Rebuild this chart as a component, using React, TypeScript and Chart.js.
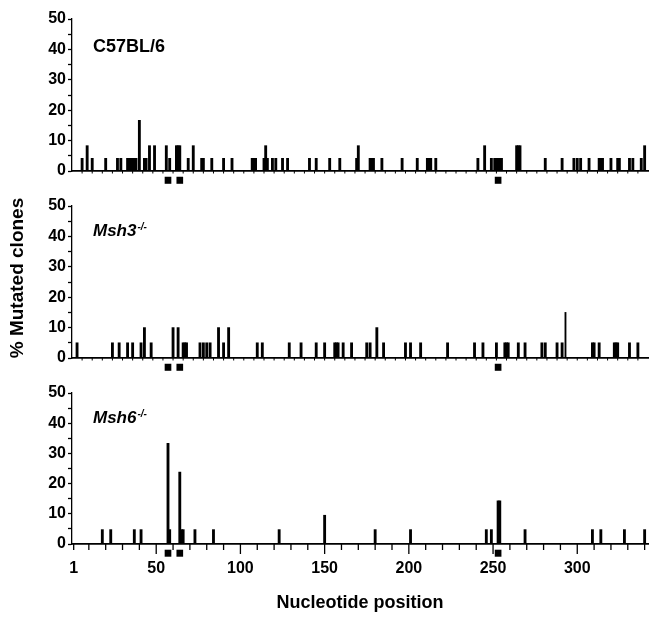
import React, { useEffect, useRef } from "react";
import { Chart, registerables } from "chart.js";

Chart.register(...registerables);

// ---------------- data ----------------
// C57BL/6 (n = 24 clones)
const c57Positions = [
  6, 9, 12, 20, 27,
  29, 33, 34, 35, 36,
  37, 38, 40, 43, 44,
  46, 49, 56, 58, 62,
  63, 64, 69, 72, 77,
  78, 83, 90, 95, 107,
  108, 109, 114, 115, 116,
  119, 121, 125, 128, 141,
  145, 153, 159, 169, 170,
  177, 178, 179, 184, 196,
  205, 211, 212, 213, 216,
  241, 245, 249, 251, 252,
  253, 254, 255, 264, 265,
  266, 281, 291, 298, 300,
  302, 307, 313, 314, 315,
  320, 324, 325, 331, 333,
  338, 340,
];
const c57Values = [
  4.17, 8.33, 4.17, 4.17, 4.17,
  4.17, 4.17, 4.17, 4.17, 4.17,
  4.17, 4.17, 16.67, 4.17, 4.17,
  8.33, 8.33, 8.33, 4.17, 8.33,
  8.33, 8.33, 4.17, 8.33, 4.17,
  4.17, 4.17, 4.17, 4.17, 4.17,
  4.17, 4.17, 4.17, 8.33, 4.17,
  4.17, 4.17, 4.17, 4.17, 4.17,
  4.17, 4.17, 4.17, 4.17, 8.33,
  4.17, 4.17, 4.17, 4.17, 4.17,
  4.17, 4.17, 4.17, 4.17, 4.17,
  4.17, 8.33, 4.17, 4.17, 4.17,
  4.17, 4.17, 4.17, 8.33, 8.33,
  8.33, 4.17, 4.17, 4.17, 4.17,
  4.17, 4.17, 4.17, 4.17, 4.17,
  4.17, 4.17, 4.17, 4.17, 4.17,
  4.17, 8.33,
];

// Msh3-/- (n = 20 clones)
const msh3Positions = [
  3, 24, 28, 33, 36,
  41, 43, 47, 60, 63,
  66, 67, 68, 76, 78,
  80, 82, 87, 90, 93,
  110, 113, 129, 136, 145,
  150, 156, 157, 158, 161,
  166, 175, 177, 181, 185,
  198, 201, 207, 223, 239,
  244, 252, 257, 258, 259,
  265, 269, 279, 281, 288,
  291, 309, 310, 313, 322,
  323, 324, 331, 336,
];
const msh3Values = [
  5, 5, 5, 5, 5,
  5, 10, 5, 10, 10,
  5, 5, 5, 5, 5,
  5, 5, 10, 5, 10,
  5, 5, 5, 5, 5,
  5, 5, 5, 5, 5,
  5, 5, 5, 10, 5,
  5, 5, 5, 5, 5,
  5, 5, 5, 5, 5,
  5, 5, 5, 5, 5,
  5, 5, 5, 5, 5,
  5, 5, 5, 5,
];
const msh3ThinPositions = [293];
const msh3ThinValues = [15];

// Msh6-/- (n = 21 clones)
const msh6Positions = [
  18, 23, 37, 41, 57,
  58, 64, 65, 66, 73,
  84, 123, 150, 180, 201,
  246, 249, 253, 254, 269,
  309, 314, 328, 340,
];
const msh6Values = [
  4.76, 4.76, 4.76, 4.76, 33.33,
  4.76, 23.81, 4.76, 4.76, 4.76,
  4.76, 4.76, 9.52, 4.76, 4.76,
  4.76, 4.76, 14.29, 14.29, 4.76,
  4.76, 4.76, 4.76, 4.76,
];

// square markers under each axis (nucleotide positions)
const markerPositions = [57, 64, 253];

// x axis ticks
const xLabelTicks = [1, 50, 100, 150, 200, 250, 300];
const xMinorTicks = [
  10, 20, 30, 40, 60, 70, 80, 90, 110, 120, 130, 140, 160, 170,
  180, 190, 210, 220, 230, 240, 260, 270, 280, 290, 310, 320, 330, 340,
];

// ---------------- chart ----------------
const FONT = '"Liberation Sans", Arial, Helvetica, sans-serif';
const MARKER_RANGE = [-4.1, -2.0];

type PanelProps = {
  top: number;
  height: number;
  xAxisHeight: number;
  positions: number[];
  values: number[];
  thinPositions?: number[];
  thinValues?: number[];
  label: string;
  italic: boolean;
  sup?: string;
  labelBaseline: number;
  bottomAxis: boolean;
  yTitle?: string;
};

function Panel(p: PanelProps) {
  const ref = useRef<HTMLCanvasElement | null>(null);

  useEffect(() => {
    const canvas = ref.current;
    if (!canvas) return;

    const datasets: any[] = [
      {
        type: "bar",
        data: p.positions.map((x, i) => ({ x, y: p.values[i] })),
        backgroundColor: "#000",
        borderWidth: 0,
        barThickness: 2.2,
        grouped: false,
      },
    ];
    if (p.thinPositions && p.thinValues) {
      datasets.push({
        type: "bar",
        data: p.thinPositions.map((x, i) => ({ x, y: p.thinValues![i] })),
        backgroundColor: "#000",
        borderWidth: 0,
        barThickness: 1.2,
        grouped: false,
      });
    }
    datasets.push({
      type: "bar",
      data: markerPositions.map((x) => ({ x, y: MARKER_RANGE })),
      backgroundColor: "#000",
      borderWidth: 0,
      barThickness: 6,
      grouped: false,
      clip: false,
    });

    const decor = {
      id: "decor",
      afterDraw(chart: any) {
        const ctx = chart.ctx as CanvasRenderingContext2D;
        const a = chart.chartArea;
        const xs = chart.scales.x;
        ctx.save();
        ctx.fillStyle = "#000";
        ctx.strokeStyle = "#000";

        const drawTick = (v: number, len: number) => {
          const px = xs.getPixelForValue(v);
          ctx.beginPath();
          ctx.moveTo(px, a.bottom);
          ctx.lineTo(px, a.bottom + len);
          ctx.stroke();
        };
        if (p.bottomAxis) {
          ctx.lineWidth = 1.3;
          xMinorTicks.forEach((v) => drawTick(v, 6));
          xLabelTicks.forEach((v) => drawTick(v, v === 1 ? 6 : 10));
        } else {
          ctx.lineWidth = 1;
          for (let v = 6; v < 342; v += 6) drawTick(v, 2.5);
        }

        // panel label
        ctx.textAlign = "left";
        ctx.textBaseline = "alphabetic";
        ctx.font = `${p.italic ? "italic " : ""}bold ${p.italic ? 17 : 18}px ${FONT}`;
        const lx = a.left + 21;
        const ly = a.top + p.labelBaseline;
        ctx.fillText(p.label, lx, ly);
        if (p.sup) {
          const w = ctx.measureText(p.label).width;
          ctx.font = `italic bold 10px ${FONT}`;
          ctx.fillText(p.sup, lx + w + 1, ly - 6);
        }

        // shared y title
        if (p.yTitle) {
          ctx.translate(18, a.top + 72);
          ctx.rotate(-Math.PI / 2);
          ctx.textAlign = "center";
          ctx.textBaseline = "middle";
          ctx.font = `bold 19px ${FONT}`;
          ctx.fillText(p.yTitle, 0, 0);
        }
        ctx.restore();
      },
    };

    const chart = new Chart(canvas, {
      type: "bar",
      data: { datasets },
      options: {
        animation: false,
        responsive: false,
        devicePixelRatio: 1,
        events: [],
        layout: { padding: { top: 19, left: 0, right: 5, bottom: 0 } },
        plugins: {
          legend: { display: false },
          tooltip: { enabled: false },
          title: { display: false },
        },
        scales: {
          x: {
            type: "linear",
            min: 0,
            max: 342,
            offset: false,
            grid: { display: false, drawTicks: false, tickLength: 0 },
            border: { display: true, color: "#000", width: 1.7 },
            ticks: {
              display: p.bottomAxis,
              color: "#000",
              font: { family: FONT, size: 16, weight: "bold" },
              padding: 15,
              autoSkip: false,
              maxRotation: 0,
              callback: (v: any) => String(v),
            },
            title: {
              display: p.bottomAxis,
              text: "Nucleotide position",
              color: "#000",
              font: { family: FONT, size: 18, weight: "bold" },
              padding: { top: 0, bottom: 4 },
            },
            afterBuildTicks: (s: any) => {
              s.ticks = xLabelTicks.map((v) => ({ value: v }));
            },
            afterFit: (s: any) => {
              s.height = p.xAxisHeight;
            },
          },
          y: {
            min: 0,
            max: 50,
            grid: {
              drawOnChartArea: false,
              drawTicks: true,
              tickLength: 4,
              tickColor: "#000",
              tickWidth: 1.3,
              color: "#000",
            },
            border: { display: true, color: "#000", width: 1.3 },
            ticks: {
              stepSize: 5,
              autoSkip: false,
              color: "#000",
              padding: 2,
              font: { family: FONT, size: 16, weight: "bold" },
              callback: (v: any) => (Number(v) % 10 === 0 ? String(v) : ""),
            },
            afterFit: (s: any) => {
              s.width = 72;
            },
          },
        },
      } as any,
      plugins: [decor],
    });

    return () => chart.destroy();
  }, []);

  return (
    <canvas
      ref={ref}
      width={653}
      height={p.height}
      style={{ position: "absolute", left: 0, top: p.top, display: "block" }}
    />
  );
}

export default function App() {
  return (
    <div
      style={{
        position: "fixed",
        left: 0,
        top: 0,
        width: 653,
        height: 618,
        background: "#fff",
        overflow: "hidden",
      }}
    >
      <Panel
        top={0}
        height={186}
        xAxisHeight={15}
        positions={c57Positions}
        values={c57Values}
        label="C57BL/6"
        italic={false}
        labelBaseline={33}
        bottomAxis={false}
      />
      <Panel
        top={187}
        height={186}
        xAxisHeight={15}
        positions={msh3Positions}
        values={msh3Values}
        thinPositions={msh3ThinPositions}
        thinValues={msh3ThinValues}
        label="Msh3"
        italic={true}
        sup="-/-"
        labelBaseline={29.5}
        bottomAxis={false}
        yTitle="% Mutated clones"
      />
      <Panel
        top={374}
        height={244}
        xAxisHeight={74}
        positions={msh6Positions}
        values={msh6Values}
        label="Msh6"
        italic={true}
        sup="-/-"
        labelBaseline={29.5}
        bottomAxis={true}
      />
    </div>
  );
}
